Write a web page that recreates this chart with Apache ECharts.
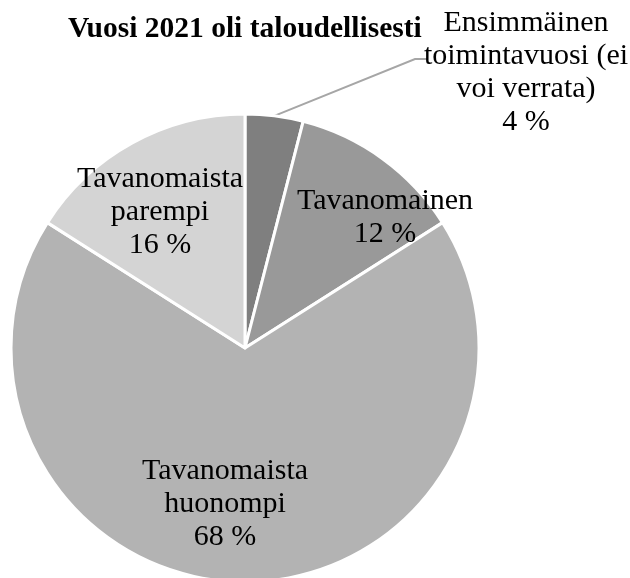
<!DOCTYPE html>
<html>
<head>
<meta charset="utf-8">
<script src="https://cdn.jsdelivr.net/npm/echarts@6/dist/echarts.min.js"></script>
<style>
  html, body { margin: 0; padding: 0; background: #fff; }
  #chart { width: 630px; height: 578px; }
</style>
</head>
<body>
<div id="chart"></div>
<script>
  // data
  var categories = ['Ensimmäinen\ntoimintavuosi (ei\nvoi verrata)', 'Tavanomainen', 'Tavanomaista\nhuonompi', 'Tavanomaista\nparempi'];
  var shares = [4, 12, 68, 16];
  var sliceColors = ['#7f7f7f', '#999999', '#b3b3b3', '#d4d4d4'];

  // label anchors (px), like the original sheet had them
  var labelSpots = [[526, 73], [385, 218], [225, 504], [160, 212]];

  var chart = echarts.init(document.getElementById('chart'));
  var font = '"Liberation Serif", "Times New Roman", serif';

  var pieData = [];
  for (var i = 0; i < shares.length; i++) {
    pieData.push({
      name: categories[i],
      value: shares[i],
      itemStyle: { color: sliceColors[i] },
      label: { position: i === 0 ? 'outside' : 'inside' },
      labelLine: { show: i === 0 }
    });
  }

  chart.setOption({
    backgroundColor: '#fff',
    animation: false,
    title: {
      text: 'Vuosi 2021 oli taloudellisesti',
      left: 63,
      top: 9,
      textStyle: {
        color: '#000',
        fontFamily: font,
        fontWeight: 'bold',
        fontSize: 29.5
      }
    },
    series: [{
      type: 'pie',
      center: [245, 348],
      radius: 234,
      startAngle: 90,
      clockwise: true,
      avoidLabelOverlap: false,
      itemStyle: { borderColor: '#fff', borderWidth: 3 },
      label: {
        show: true,
        color: '#000',
        fontFamily: font,
        fontSize: 30,
        lineHeight: 33,
        align: 'center',
        formatter: function (p) { return p.name + '\n' + p.value + ' %'; }
      },
      labelLine: {
        lineStyle: { color: '#a6a6a6', width: 2 }
      },
      labelLayout: function (p) {
        var spot = labelSpots[p.dataIndex];
        var out = { x: spot[0], y: spot[1], align: 'center', verticalAlign: 'middle' };
        if (p.dataIndex === 0 && p.labelLinePoints) {
          out.labelLinePoints = [p.labelLinePoints[0], [415, 59], [427, 59]];
        }
        return out;
      },
      emphasis: { disabled: true },
      data: pieData
    }]
  });
</script>
</body>
</html>
